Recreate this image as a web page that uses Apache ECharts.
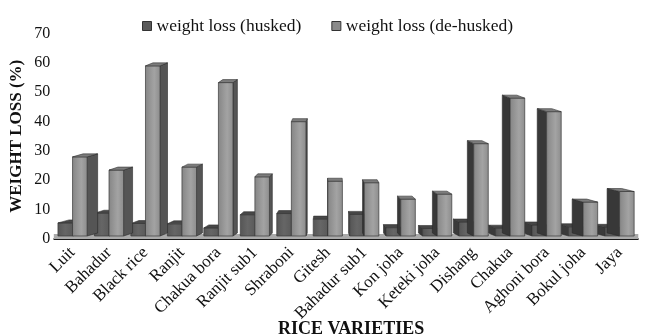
<!DOCTYPE html>
<html>
<head>
<meta charset="utf-8">
<script src="https://cdn.jsdelivr.net/npm/echarts@6/dist/echarts.min.js"></script>
<style>html,body{margin:0;padding:0;background:#fff;}#c{width:645px;height:335px;}</style>
</head>
<body>
<div id="c"></div>
<script>
var categories = ['Luit','Bahadur','Black rice','Ranjit','Chakua bora','Ranjit sub1','Shraboni','Gitesh','Bahadur sub1','Kon joha','Keteki joha','Dishang','Chakua','Aghoni bora','Bokul joha','Jaya'];
var husked = [6.5, 9.8, 6.3, 6.2, 4.8, 9.3, 9.7, 7.8, 9.4, 4.9, 4.6, 6.8, 4.7, 5.8, 5.2, 5.0];
var dehusked = [29, 24.5, 60, 25.5, 54.3, 22.2, 41, 20.7, 20.2, 14.6, 16.3, 33.5, 49, 44.4, 13.6, 17.2];
var yTicks = {min: 0, max: 70, interval: 10};
var seriesNames = ['weight loss (husked)', 'weight loss (de-husked)'];

var FONT = 'Liberation Serif';
var VP = 330;

var styles = [
  {front: {type:'linear',x:0,y:0,x2:1,y2:0,colorStops:[{offset:0,color:'#555'},{offset:0.5,color:'#666'},{offset:1,color:'#5a5a5a'}]},
   side: '#3e3e3e', sideR: '#3a3a3a', cap: '#474747', legend: '#5a5a5a'},
  {front: {type:'linear',x:0,y:0,x2:1,y2:0,colorStops:[{offset:0,color:'#858585'},{offset:0.45,color:'#9c9c9c'},{offset:0.6,color:'#a3a3a3'},{offset:1,color:'#8c8c8c'}]},
   side: '#555', sideR: '#383838', cap: '#7c7c7c', legend: '#8a8a8a'}
];

function makeRender(si) {
  return function (params, api) {
    var ci = api.value(0), v = api.value(1);
    var top = api.coord([ci, v]);
    var base = api.coord([ci, 0]);
    var band = api.size([1, 0])[0];
    var bw = band * 0.4;
    var cx = top[0];
    var x0 = si === 0 ? cx - bw : cx;
    var x1 = x0 + bw;
    var dy = 3;
    var yf = top[1] + dy;
    var yb = base[1] - 3;
    var mid = (x0 + x1) / 2;
    var d = (VP - mid) * 0.042;
    var st = styles[si];
    var sidePts, sideFill;
    if (d >= 0) {
      sidePts = [[x1, yf], [x1 + d, yf - dy], [x1 + d, yb - dy], [x1, yb]];
      sideFill = st.side;
    } else {
      sidePts = [[x0, yf], [x0 + d, yf - dy], [x0 + d, yb - dy], [x0, yb]];
      sideFill = st.sideR;
    }
    var capPts = [[x0, yf], [x1, yf], [x1 + d, yf - dy], [x0 + d, yf - dy]];
    return {
      type: 'group',
      children: [
        {type: 'polygon', shape: {points: sidePts}, style: {fill: sideFill, stroke: '#2a2a2a', lineWidth: 0.6}},
        {type: 'rect', shape: {x: x0, y: yf, width: bw, height: yb - yf}, style: {fill: st.front, stroke: '#3a3a3a', lineWidth: 0.7}},
        {type: 'polygon', shape: {points: capPts}, style: {fill: st.cap, stroke: '#333', lineWidth: 0.6}}
      ]
    };
  };
}

function floorRender(params, api) {
  var ci = api.value(0);
  var base = api.coord([ci, 0]);
  var band = api.size([1, 0])[0];
  return {
    type: 'group',
    children: [
      {type: 'rect', shape: {x: base[0] - band / 2 - 0.5, y: base[1] - 5, width: band + 1, height: 5},
       style: {fill: '#aaaaaa'}}
    ]
  };
}

var chart = echarts.init(document.getElementById('c'), null, {renderer: 'canvas'});
chart.setOption({
  animation: false,
  backgroundColor: '#fff',
  legend: {
    left: 137, top: 12,
    itemWidth: 9, itemHeight: 9, itemGap: 30,
    textStyle: {fontFamily: FONT, fontSize: 17.5, color: '#111'},
    data: [
      {name: seriesNames[0], icon: 'rect', itemStyle: {color: styles[0].legend, borderColor: '#333', borderWidth: 1}},
      {name: seriesNames[1], icon: 'rect', itemStyle: {color: styles[1].legend, borderColor: '#333', borderWidth: 1}}
    ]
  },
  grid: {left: 54.3, right: 7.2, top: 33.5, bottom: 96, containLabel: false, outerBoundsMode: 'none'},
  xAxis: {
    type: 'category',
    data: categories,
    name: 'RICE VARIETIES',
    nameLocation: 'middle',
    nameGap: 81,
    nameMoveOverlap: false,
    nameTextStyle: {fontFamily: FONT, fontSize: 18, fontWeight: 'bold', color: '#111', padding: [0, 0, 0, 10]},
    axisLine: {show: true, lineStyle: {color: '#1a1a1a', width: 2}},
    axisTick: {show: false},
    axisLabel: {rotate: 45, interval: 0, margin: 11, fontFamily: FONT, fontSize: 17, color: '#111'},
    splitLine: {show: false}
  },
  yAxis: {
    type: 'value',
    min: yTicks.min, max: yTicks.max, interval: yTicks.interval,
    name: 'WEIGHT LOSS (%)',
    nameLocation: 'middle',
    nameGap: 29,
    nameRotate: 90,
    nameMoveOverlap: false,
    nameTextStyle: {fontFamily: FONT, fontSize: 17, fontWeight: 'bold', color: '#111'},
    axisLine: {show: false},
    axisTick: {show: false},
    splitLine: {show: false},
    axisLabel: {margin: 4, fontFamily: FONT, fontSize: 16, color: '#111'}
  },
  series: [
    {type: 'custom', name: 'floor', silent: true, renderItem: floorRender,
     data: categories.map(function (c, i) { return [i, 0]; }), encode: {x: 0, y: 1}, clip: false, z: 1},
    {type: 'custom', name: seriesNames[0], renderItem: makeRender(0),
     itemStyle: {color: styles[0].legend},
     data: husked.map(function (v, i) { return [i, v]; }), encode: {x: 0, y: 1}, clip: false, z: 2},
    {type: 'custom', name: seriesNames[1], renderItem: makeRender(1),
     itemStyle: {color: styles[1].legend},
     data: dehusked.map(function (v, i) { return [i, v]; }), encode: {x: 0, y: 1}, clip: false, z: 3}
  ]
});
</script>
</body>
</html>
